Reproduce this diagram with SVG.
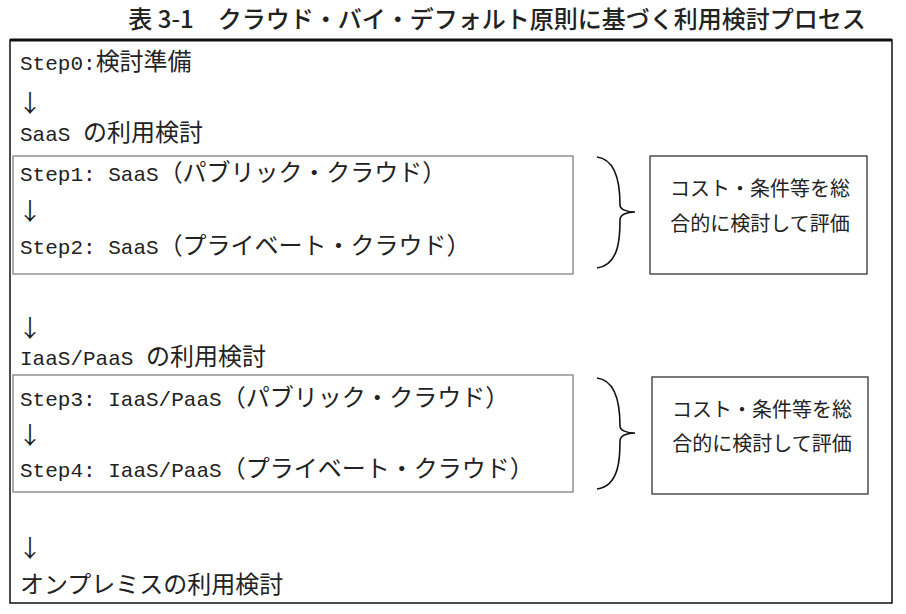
<svg xmlns="http://www.w3.org/2000/svg" width="906" height="614" viewBox="0 0 906 614">
<style>
.t{font-family:"Liberation Mono","Noto Sans CJK JP",monospace;font-size:21px;fill:#222}
.j{font-size:24px}
.a{font-family:"Noto Sans CJK JP",sans-serif;font-size:24px;fill:#222}
.s{font-family:"Noto Sans CJK JP",serif;font-size:20px;fill:#222}
.b{fill:#fff;stroke:#777;stroke-width:1.2}
.c{fill:#fff;stroke:#222;stroke-width:1.2}
.br{fill:none;stroke:#111;stroke-width:1.6}
</style>
<rect width="906" height="614" fill="#fff"/>
<text x="497" y="28" text-anchor="middle" font-family="'Noto Sans CJK JP',sans-serif" font-size="24" font-weight="500" fill="#222">表 3-1　クラウド・バイ・デフォルト原則に基づく利用検討プロセス</text>
<g id="frame">
<rect x="10" y="40" width="882" height="563" fill="none" stroke="#111" stroke-width="1.5"/>
<line x1="10" y1="40" x2="892" y2="40" stroke="#111" stroke-width="3"/>
</g>
<g id="step0"><text class="t" x="20" y="70">Step0:<tspan class="j">検討準備</tspan></text></g>
<g id="connectors">
<text class="a" x="18" y="112">↓</text>
<text class="a" x="18" y="337">↓</text>
<text class="a" x="18" y="557">↓</text>
<path class="br" d="M597,157 C620,160 620,195 620,205 C620,210 628,212 635,212 C628,212 620,214 620,220 C620,235 620,265 597,268"/>
<path class="br" d="M597,378 C620,381 620,416 620,426 C620,431 628,433 635,433 C628,433 620,435 620,441 C620,456 620,486 597,489"/>
</g>
<g id="saas"><text class="t" x="20" y="141">SaaS <tspan class="j">の利用検討</tspan></text></g>
<g id="box1">
<rect class="b" x="13" y="156" width="560" height="118"/>
<text class="t" x="20" y="181">Step1: SaaS<tspan class="j">（パブリック・クラウド）</tspan></text>
<text class="a" x="18" y="220">↓</text>
<text class="t" x="20" y="254">Step2: SaaS<tspan class="j">（プライベート・クラウド）</tspan></text>
</g>
<g id="eval1">
<rect class="c" x="650" y="156" width="217" height="118"/>
<text class="s" x="760" y="196" text-anchor="middle">コスト・条件等を総</text>
<text class="s" x="760" y="231" text-anchor="middle">合的に検討して評価</text>
</g>
<g id="iaas"><text class="t" x="20" y="365">IaaS/PaaS <tspan class="j">の利用検討</tspan></text></g>
<g id="box2">
<rect class="b" x="13" y="375" width="560" height="117"/>
<text class="t" x="20" y="406">Step3: IaaS/PaaS<tspan class="j">（パブリック・クラウド）</tspan></text>
<text class="a" x="18" y="444">↓</text>
<text class="t" x="20" y="477">Step4: IaaS/PaaS<tspan class="j">（プライベート・クラウド）</tspan></text>
</g>
<g id="eval2">
<rect class="c" x="652" y="377" width="216" height="117"/>
<text class="s" x="762" y="417" text-anchor="middle">コスト・条件等を総</text>
<text class="s" x="762" y="451" text-anchor="middle">合的に検討して評価</text>
</g>
<g id="onprem"><text class="t j" x="20" y="593">オンプレミスの利用検討</text></g>
</svg>
